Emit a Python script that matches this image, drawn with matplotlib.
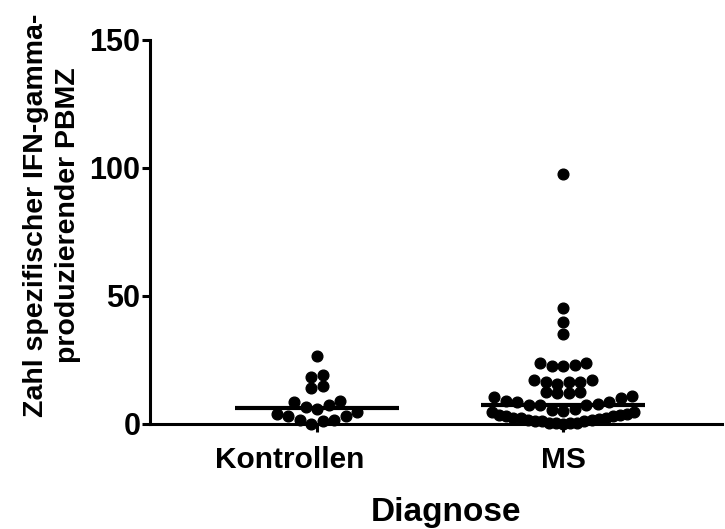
import numpy as np
import matplotlib.pyplot as plt
import matplotlib.transforms as mtransforms

plt.rcParams['font.family'] = ['Liberation Sans', 'DejaVu Sans']
plt.rcParams['font.weight'] = 'bold'

groups = ['Kontrollen', 'MS']
kontrollen = [26.5, 18.5, 19, 14, 15, 8.5, 6.5, 6, 7.5, 9,
              4, 3, 1.5, 0, 1, 1.5, 3, 4.5]
ms = [97.5, 45.5, 40, 35,
      24, 23, 22.5, 22.5, 24,
      17, 16.5, 15.5, 16.5, 16.5, 17,
      12.5, 12, 12, 12.5,
      11, 10, 8.5, 7.5, 7.5, 6, 8, 8.5, 9, 10.5, 7.5, 5, 5.5,
      4.5, 4, 3.5, 3, 2.5, 1.5, 1, 1, 0.5, 0.2, 0,
      4.5, 3.5, 3, 2.5, 2.5, 2, 1.5, 1, 0.5, 0.2]
yticks = [0, 50, 100, 150]

fig = plt.figure(figsize=(7.25, 5.29), dpi=100)
ax = fig.add_axes([0.207, 0.1985, 0.789, 0.7259])
ax.set_xlim(-0.679, 1.646)
ax.set_ylim(0, 150)

# pixels per data unit, for the scatter layout
p0 = ax.transData.transform((0, 0))
p1 = ax.transData.transform((1, 1))
sx, sy = p1 - p0


def rows_layout(vals, row_h=6.5, row_base=4.6, gap=2.5, step=11.5, max_w=142):
    # prism-like column scatter: values grouped in rows, spread centre-out
    vals = np.asarray(vals, float)
    offs = np.zeros(len(vals))
    order = np.argsort(vals, kind='stable')
    bins = np.floor((vals - row_base) / row_h)
    rows = []
    for k in order:
        if rows and bins[k] == bins[rows[-1][-1]] and vals[k] - vals[rows[-1][-1]] <= gap:
            rows[-1].append(k)
        else:
            rows.append([k])
    for idx in rows:
        n = len(idx)
        sp = step if n < 2 else min(step, max_w / (n - 1))
        slots = np.arange(n) - (n - 1) / 2
        slots = slots[np.argsort(np.abs(slots) + 1e-3 * slots, kind='stable')]
        offs[idx] = slots * sp
    return offs / sx


for i, vals in enumerate([kontrollen, ms]):
    xs = i + rows_layout(vals)
    ax.plot(xs, vals, 'o', color='black', markersize=7.7, clip_on=False, zorder=3)
    ax.hlines(np.median(vals), i - 0.333, i + 0.333, color='black', lw=3, zorder=4)

for s in ['top', 'right']:
    ax.spines[s].set_visible(False)
for s in ['left', 'bottom']:
    ax.spines[s].set_linewidth(2.2)

ax.set_yticks(yticks)
ax.set_xticks(range(len(groups)))
ax.set_xticklabels(groups)
ax.tick_params(axis='y', length=6, width=2.2, labelsize=22, pad=1)
ax.tick_params(axis='x', length=6, width=2.2, labelsize=21.5, pad=10)
# the first category label sits a bit left of its tick in the original
lab = ax.get_xticklabels()[0]
lab.set_transform(lab.get_transform() +
                  mtransforms.ScaledTranslation(-27 / 100, 0, fig.dpi_scale_trans))

ax.set_xlabel('Diagnose', fontsize=24, fontweight='bold', va='baseline')
ax.xaxis.set_label_coords(0.517, -0.2526)
ax.text(-0.172, 0.544, 'Zahl spezifischer IFN-gamma-\nproduzierender PBMZ',
        transform=ax.transAxes, rotation=90, ha='center', va='center',
        fontsize=20.5, fontweight='bold', multialignment='center', linespacing=1.3)

fig.savefig('out.png', dpi=100)
